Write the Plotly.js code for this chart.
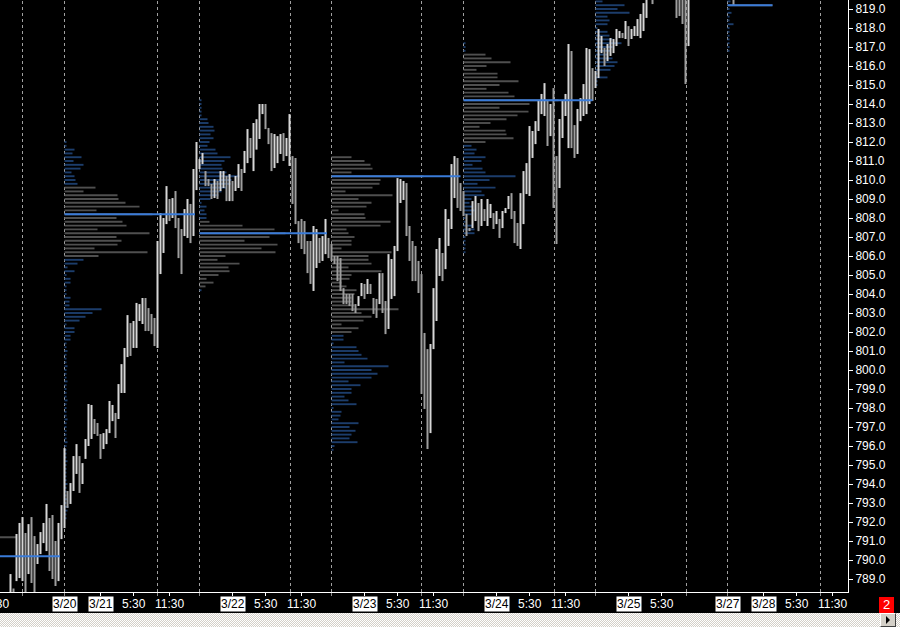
<!DOCTYPE html>
<html><head><meta charset="utf-8">
<script src="https://cdn.plot.ly/plotly-3.0.1.min.js"></script>
<style>
html,body{margin:0;padding:0;background:#000;width:900px;height:627px;overflow:hidden;position:relative;}
#chart{position:absolute;left:0;top:0;width:900px;height:613px;}
#scroll{position:absolute;left:0;top:613px;width:900px;height:14px;background:repeating-conic-gradient(#ffffff 0 25%, #d4d0c8 0 50%) 0 0/2px 2px;}
#btn{position:absolute;left:880px;top:0;width:16px;height:14px;background:#d4d0c8;border-top:1px solid #fff;border-left:1px solid #fff;border-right:1px solid #404040;border-bottom:1px solid #404040;box-sizing:border-box;}
#btn:after{content:'';position:absolute;left:5px;top:2px;border-left:4px solid #000;border-top:4px solid transparent;border-bottom:4px solid transparent;}
#badge{position:absolute;left:879px;top:597px;width:15px;height:16px;background:#ff0000;color:#fff;font:13px 'Liberation Sans',Arial,sans-serif;text-align:center;line-height:16px;}
</style></head>
<body>
<div id="chart"></div>
<div id="badge">2</div>
<div id="scroll"><div id="btn"></div></div>
<script>
// ---------- price bars (30-minute bars), bar index starts at firstBar ----------
const firstBar = 3;
const highs = [
789.26,788.5,791.37,791.95,792.26,791.42,791.89,792.26,791.26,790.84,
791.47,791.95,792.95,792.21,792.37,791.0,791.95,792.89,795.89,793.63,
794.05,795.47,796.1,795.47,795.1,796.37,798.21,798.16,797.42,797.21,
796.63,796.68,796.89,798.37,798.16,797.74,799.26,800.31,801.16,802.89,
802.47,802.58,803.53,803.47,803.79,803.79,803.26,802.95,802.74,806.79,
808.26,808.0,809.68,809.0,809.05,809.42,808.0,807.42,808.47,809.0,
808.74,810.58,812.0,811.1,811.42,810.47,810.05,809.79,810.05,809.95,
810.47,810.47,810.21,810.31,809.95,810.21,810.84,810.58,811.53,812.68,
812.21,813.0,813.2,814.0,814.0,814.0,812.74,812.47,812.42,812.31,
812.42,812.47,812.21,813.47,811.26,811.16,807.84,807.95,807.84,806.79,
806.79,807.58,807.42,806.95,807.05,807.95,806.95,806.63,806.0,806.0,
805.89,804.31,804.0,804.0,804.0,803.47,803.89,804.58,804.53,804.79,
804.53,803.79,803.74,805.1,805.1,803.63,806.1,805.84,806.53,810.1,
810.05,809.95,809.84,807.58,806.79,806.53,805.74,805.05,801.95,801.1,
801.37,804.31,806.37,806.95,806.16,808.47,807.95,810.84,811.26,811.16,
809.84,809.42,808.21,807.47,808.89,809.16,808.79,809.0,808.47,809.0,
808.74,808.26,808.37,807.95,808.37,808.53,809.16,809.31,808.37,807.74,
809.31,810.47,810.89,812.84,812.58,813.1,814.16,814.53,815.1,814.16,
814.0,814.84,811.26,813.21,814.16,814.53,817.16,816.79,812.89,813.74,
814.31,815.05,816.95,816.89,815.89,815.74,817.95,817.58,816.95,817.16,
817.47,817.42,817.95,817.84,817.74,818.37,818.1,817.95,818.1,818.47,
818.74,819.31,819.9,820.4,820.2,820.6,821.0,821.3,821.1,820.8,
820.9,820.6,820.3,820.1,820.0,819.9,819.8,820.6,820.9,821.2,
821.4,821.1,821.5,821.8,821.6,821.3,821.0,820.8,821.1,820.7,
820.5,820.3,820.5,820.8,821.2,821.0,821.4,821.7,821.5,821.9,
822.2,822.0,821.8,822.1,822.4
];
const lows = [
788.1,788.1,788.89,789.05,788.89,788.2,789.26,788.79,788.2,789.79,
790.31,790.89,790.47,789.42,789.0,788.63,788.89,791.1,791.68,792.74,
792.95,793.63,794.53,793.53,794.0,795.32,796.0,796.37,796.63,796.53,
795.32,795.84,796.1,796.68,797.31,796.42,797.42,798.79,798.79,800.68,
800.74,801.16,801.16,802.58,802.42,802.05,802.05,801.89,801.26,801.16,
805.05,806.16,807.68,807.84,808.0,807.47,805.89,805.05,807.05,806.95,
806.68,807.05,809.47,810.58,810.84,809.68,809.68,809.0,809.05,809.0,
809.42,809.58,808.89,808.89,808.89,809.42,809.58,809.42,810.37,810.89,
811.16,810.47,811.6,812.16,813.47,812.68,811.89,810.47,810.63,810.89,
811.37,811.0,811.26,810.74,808.74,807.68,806.68,806.37,806.1,805.1,
804.53,804.16,805.37,805.63,805.74,806.1,805.89,805.74,805.58,804.68,
804.16,803.47,803.47,803.37,803.1,803.0,803.37,803.89,803.74,804.0,
804.0,802.95,802.74,803.47,803.0,801.89,802.16,803.74,803.89,806.26,
808.79,808.95,807.05,805.74,804.68,804.68,804.05,798.74,797.95,795.84,
796.68,801.1,802.58,804.95,804.68,805.31,806.53,807.42,809.05,808.53,
808.37,808.1,807.05,807.31,807.47,807.84,807.31,807.58,807.84,807.58,
808.0,807.42,807.68,806.95,807.47,808.26,808.47,807.95,806.68,806.53,
806.37,807.68,809.26,809.16,811.16,811.89,812.58,813.47,813.37,811.79,
812.31,808.53,806.63,809.58,812.21,813.37,811.68,811.68,811.16,811.37,
813.1,813.37,813.47,814.0,814.16,814.84,815.37,816.68,816.0,816.26,
816.53,816.68,817.05,817.47,817.47,817.42,817.05,817.42,817.58,817.58,
817.47,817.84,818.53,819.55,819.26,819.7,820.1,820.4,820.2,819.9,
819.8,819.6,818.53,818.63,818.21,815.05,817.05,819.6,820.0,820.3,
820.5,820.2,820.6,820.9,820.7,820.4,820.1,819.9,820.2,819.8,
819.6,819.21,819.7,820.0,820.3,820.2,820.5,820.8,820.6,821.0,
821.3,821.1,820.9,821.2,821.5
];

// ---------- volume profiles (one per session) ----------
// session start (bar index), top price of the profile, value-area bounds,
// row volumes listed from the top price downward in 0.2 steps
const profStart  = [-23, 21, 66, 110, 154, 198, 242];
const profTop    = [791.2, 812.0, 814.2, 811.2, 817.2, 819.4, 819.4];
const profVaLow  = [790.0, 806.0, 804.4, 802.0, 812.0, 819.6, 819.2];
const profVaHigh = [792.0, 809.6, 807.8, 811.2, 816.6, 822.0, 819.2];
const profVol0 = [84];
const profVol1 = [2,2,10,8,17,9,19,16,7,10,11,13,
  31,19,53,54,61,75,32,88,52,58,62,33,85,52,57,53,30,83,34,
  19,13,3,10,2,6,6,2,2,2,6,5,5,37,28,21,15,2,10,10,6,6,
  2,2,3,2,2,2,3,2,2,2,3,2,2,2,2,3,2,2,2,2,3,2,2,2,2,2,3,2,2,2,2,3,2,2,2,2,2,3,2,2,2,3,2,4,3,2,2];
const profVol2 = [2,2,2,2,2,8,9,14,15,11,14,10,8,16,18,31,25,22,23,27,40,32,31,27,22,19,11,2,7,5,7,7,
  10,43,75,86,70,45,78,62,76,26,18,40,29,30,19,7,14,6,
  2];
const profVol3 = [20,33,39,41,20,92,49,48,41,14,61,27,40,35,7,33,34,59,49,15,17,23,20,20,10,60,37,37,40,17,50,20,18,10,15,25,23,20,20,23,67,30,40,32,10,27,20,
  12,12,2,25,27,30,36,13,57,40,46,40,17,29,20,20,13,17,25,2,10,9,7,27,18,24,20,18,26,3,2];
const profVol4 = [2,2,2,
  22,28,47,23,13,34,34,55,36,23,45,51,95,66,36,65,54,43,27,16,42,43,50,22,
  8,13,11,22,18,9,19,22,52,26,14,32,18,21,8,6,9,11,8,2,2,9,11,11,2,2,2,2,2];
const profVol5 = [7,29,22,34,12,14,12,2,12,14,17,26,17,15,12,17,22,19,15,2,12,2,2];
const profVol6 = [3,45,2,4,2,2,6,2,2,2,2,2,2,2];
const profVols = [profVol0, profVol1, profVol2, profVol3, profVol4, profVol5, profVol6];

// point-of-control lines
const pocPrice = [790.2, 808.2, 807.2, 810.2, 814.2, 819.2];
const pocFrom  = [-23, 21, 66, 110, 154, 242];
const pocTo    = [19.5, 64.5, 108.5, 153, 197, 257];

// session separators (bar index)
const sessionBreaks = [7, 21, 52, 66, 96.33, 110, 140, 154, 184.33, 198, 228.33, 242, 273];

// time axis labels
const tickIdx  = [21, 33, 44, 56, 77, 88, 100, 121, 132, 144, 165, 176, 188, 209, 220, 242, 254, 265, 277];
const tickText = ['3/20','3/21','5:30','11:30','3/22','5:30','11:30','3/23','5:30','11:30','3/24','5:30','11:30','3/25','5:30','3/27','3/28','5:30','11:30'];
const leftCutIdx = -2.33, leftCutText = '11:30';

// ---------- styling ----------
const FONT = 'Liberation Sans, Arial, sans-serif';
const VOL_TO_BARS = 1/3;
const X_RANGE = [-0.5, 282.1667];
const Y_RANGE = [788.316, 819.474];

const barIdx = highs.map((_, k) => firstBar + k);
const mids = highs.map((h, k) => (h + lows[k]) / 2);
const barColors = mids.map((m, k) => (k === 0 || m >= mids[k-1]) ? '#d6d6d6' : '#9e9e9e');

const traces = [];
profVols.forEach((vols, s) => {
  const prices = vols.map((_, k) => Math.round((profTop[s] - 0.2*k) * 10) / 10);
  const cols = prices.map(p => (p >= profVaLow[s] - 0.01 && p <= profVaHigh[s] + 0.01) ? '#4f4f4f' : '#1c3d6b');
  traces.push({
    type: 'bar', orientation: 'h',
    y: prices, x: vols.map(v => v * VOL_TO_BARS), base: profStart[s],
    width: 0.1, marker: {color: cols, line: {width: 0}}, hoverinfo: 'skip'
  });
});
traces.push({
  type: 'bar', x: barIdx, base: lows, y: highs.map((h, k) => h - lows[k]),
  width: 0.6667, marker: {color: barColors, line: {width: 0}}, hoverinfo: 'skip'
});
pocPrice.forEach((p, k) => {
  traces.push({type: 'scatter', mode: 'lines', x: [pocFrom[k], pocTo[k]], y: [p, p],
    line: {color: '#3a7bd8', width: 2}, hoverinfo: 'skip'});
});

const shapes = sessionBreaks.map(b => ({
  type: 'line', xref: 'x', yref: 'paper', x0: b, x1: b, y0: 0, y1: 1,
  line: {color: '#a0a0a0', width: 1, dash: '3px,3px'}, layer: 'below'
}));

const annotations = tickIdx.map((t, k) => {
  const isDate = tickText[k].indexOf('/') >= 0;
  return {
    xref: 'x', yref: 'paper', x: t, y: 0, yanchor: 'top', xanchor: 'center', yshift: -4,
    text: tickText[k], showarrow: false, borderpad: 0,
    bgcolor: isDate ? '#ffffff' : 'rgba(0,0,0,0)',
    font: {family: FONT, size: 12, color: isDate ? '#000000' : '#ffffff'}
  };
});
annotations.push({
  xref: 'paper', yref: 'paper', x: (leftCutIdx - X_RANGE[0]) / (X_RANGE[1] - X_RANGE[0]), y: 0,
  yanchor: 'top', xanchor: 'center', yshift: -4, text: leftCutText, showarrow: false, borderpad: 0,
  font: {family: FONT, size: 12, color: '#ffffff'}
});

const layout = {
  width: 900, height: 613,
  margin: {l: 0, r: 52, t: 0, b: 21, pad: 0},
  paper_bgcolor: '#000', plot_bgcolor: '#000',
  showlegend: false, barmode: 'overlay', hovermode: false,
  font: {family: FONT, color: '#fff', size: 12},
  xaxis: {
    range: X_RANGE, showgrid: false, zeroline: false,
    showline: true, linecolor: '#ffffff', linewidth: 1,
    tickmode: 'array', tickvals: tickIdx, ticktext: tickIdx.map(() => ''),
    ticks: 'outside', ticklen: 3, tickcolor: '#ffffff', tickwidth: 1,
    minor: {tickmode: 'array', tickvals: sessionBreaks, ticks: 'outside', ticklen: 3, tickcolor: '#8a8a8a', showgrid: false},
    fixedrange: true
  },
  yaxis: {
    range: Y_RANGE, side: 'right', showgrid: false, zeroline: false,
    showline: true, linecolor: '#ffffff', linewidth: 1,
    tickmode: 'linear', tick0: 789, dtick: 1, tickformat: '.1f',
    ticks: 'outside', ticklen: 4, tickcolor: '#ffffff',
    tickfont: {family: FONT, size: 12, color: '#ffffff'},
    fixedrange: true
  },
  shapes: shapes,
  annotations: annotations
};

Plotly.newPlot('chart', traces, layout, {displayModeBar: false, staticPlot: true});
</script>
</body></html>
